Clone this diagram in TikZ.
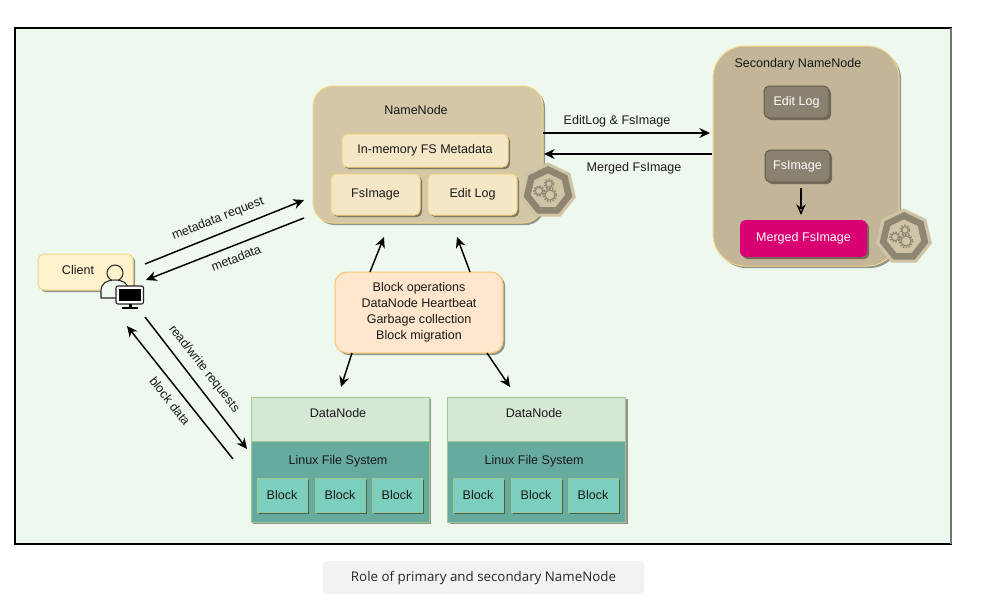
\documentclass[tikz,border=0pt]{standalone}
\usepackage{fontspec}
\setmainfont{Liberation Sans}
\newfontfamily\capfont{Open Sans}
\usetikzlibrary{arrows.meta,shadows,shapes.geometric,calc}
\tikzset{
  x=0.75pt,y=-0.75pt,
  sz/.style 2 args={minimum width=0.75pt*#1,minimum height=0.75pt*#2,inner sep=0pt,outer sep=0pt},
  shad/.style={drop shadow={shadow xshift=1.6pt,shadow yshift=-1.6pt,opacity=.4,fill=black}},
  txt/.style={font=\fontsize{9.4pt}{12pt}\selectfont,text=black!90,align=center},
  clientbox/.style={draw=#1,rounded corners=4.5pt,line width=.75pt,shad,txt},
  innerbox/.style={draw=fdc,fill=cream,rounded corners=4pt,line width=.75pt,shad,txt},
  greybox/.style={draw=greyd,fill=grey,rounded corners=4pt,line width=.75pt,shad,txt,text=white},
  dnhead/.style={draw=gb,fill=dnh,line width=.75pt,shad,txt},
  dnbody/.style={draw=gb,fill=dnb,line width=.75pt,shad},
  blockbox/.style={draw=gb,fill=blk,line width=.75pt,shad,txt},
  flow/.style={draw=black,line width=1.1pt,-{Stealth[length=8pt,width=7.5pt]}},
  lab/.style={txt,inner sep=0pt},
  hepto/.style={regular polygon,regular polygon sides=7,minimum size=#1*0.75pt,inner sep=0pt},
  gearline/.style={draw=geard,line width=.8pt},
  gearteeth/.style={draw=geard,line width=1.3pt,dash pattern=on 1.1pt off 1.1pt},
}
\definecolor{framef}{HTML}{EFF8EF}
\definecolor{fdc}{HTML}{F4D885}
\definecolor{cream}{HTML}{F5E6C6}
\definecolor{nnf}{HTML}{D3C7A8}
\definecolor{snnf}{HTML}{C2B598}
\definecolor{grey}{HTML}{8A8270}
\definecolor{greyd}{HTML}{625C4C}
\definecolor{gb}{HTML}{9CC78E}
\definecolor{dnh}{HTML}{D5E8D4}
\definecolor{dnb}{HTML}{67AB9F}
\definecolor{blk}{HTML}{7CCFBC}
\definecolor{geard}{HTML}{8F8672}
\definecolor{hepl}{HTML}{CFC4A6}
\definecolor{pink}{HTML}{D80073}
\definecolor{orangef}{HTML}{FFE6CC}
\definecolor{clientf}{HTML}{FFF2CC}
\newcommand{\cogs}[2]{%
  \begin{scope}[shift={(#1,#2)}]
    \foreach \cx/\cy/\cr in {2/4/5,-9/0/3.6,1/-7/3.2}{
      \draw[gearline] (\cx,\cy) circle (\cr);
      \draw[gearteeth] (\cx,\cy) circle (\cr+1.4);
    }
  \end{scope}}
\begin{document}
\begin{tikzpicture}
\useasboundingbox (0,0) rectangle (999,611);
\fill[white] (0,0) rectangle (999,611);
% frame
\draw[fill=framef,line width=.9pt,draw=black] (15,28) rectangle (951,544);
\draw[line width=.9pt,draw=black!55] (951,28) -- (951,544);

% client
\node[clientbox=fdc,fill=clientf,sz={95}{36}] (client) at (85.5,272) {};
\node[lab] (clienttxt) at (78,270) {Client};
\draw[draw=black!85,line width=.8pt,fill=clientf] (115,273) circle (8);
\draw[draw=black!85,line width=.8pt,fill=framef] (101,298) -- (101,291) .. controls (101,283) and (107,280) .. (115,280) .. controls (123,280) and (128,283) .. (129,291) -- (129,298) -- cycle;
\draw[draw=black!85,fill=white,line width=.8pt,rounded corners=1.5pt] (116,286) rectangle (143.5,304);
\fill[black] (119,288.5) rectangle (141,301);
\fill[black] (128.5,304) rectangle (131.5,307);
\fill[black] (122,307) rectangle (137.5,308.5);

% namenode
\node[draw=fdc,fill=nnf,rounded corners=15pt,line width=.75pt,shad,sz={230}{137}] (nn) at (428,154.5) {};
\node[lab] (nntxt) at (416,110) {NameNode};
\node[innerbox,sz={166}{33}] (mem) at (425,150.5) {In-memory FS Metadata};
\node[innerbox,sz={89}{41}] (fsi) at (375.5,194.5) {FsImage};
\node[innerbox,sz={89}{41}] (edl) at (472.5,194.5) {Edit Log};
\node[hepto=56,fill=hepl,draw=hepl,line width=.75pt] (hep1) at (548,191) {};
\node[hepto=50,fill=geard] (hep1b) at (548,191) {};
\node[hepto=35,fill=hepl] (hep1c) at (548,191) {};
\cogs{548}{191}

% secondary
\node[draw=fdc,fill=snnf,rounded corners=24pt,line width=.75pt,shad,sz={186}{220}] (snn) at (806,156) {};
\node[lab] (snntxt) at (798,64) {Secondary NameNode};
\node[greybox,sz={65}{32}] (sedl) at (796.5,102) {Edit Log};
\node[greybox,sz={65}{32}] (sfsi) at (797.5,166) {FsImage};
\node[fill=pink,rounded corners=4pt,shad,txt,text=white,sz={127}{37}] (merged) at (803.5,238.5) {Merged FsImage};
\node[hepto=56,fill=hepl,draw=hepl,line width=.75pt] (hep2) at (904,237) {};
\node[hepto=50,fill=geard] (hep2b) at (904,237) {};
\node[hepto=35,fill=hepl] (hep2c) at (904,237) {};
\cogs{904}{237}
\draw[draw=black,line width=1pt,-{Stealth[open,length=8pt,width=7pt]}] ([shift={(3.5,6)}]sfsi.south) -- ([shift={(-2.5,-5)}]merged.north);

% ops
\node[draw=fdc!80!orange,fill=orangef,rounded corners=9pt,line width=.75pt,shad,txt,sz={168}{81}] (ops) at (419,312.5) {Block operations\\DataNode Heartbeat\\Garbage collection\\Block migration};

% datanode 1
\node[dnhead,sz={178}{44},text depth=0pt,anchor=north] (dn1) at (340,397) {};
\node[lab] (dn1txt) at (338,413) {DataNode};
\node[dnbody,sz={178}{81},anchor=north] (dl1) at (340,441) {};
\node[lab] (dl1txt) at (338,461) {Linux File System};
\node[blockbox,sz={50}{34}] (b11) at (282,495) {Block};
\node[blockbox,sz={50}{34}] (b12) at (340,495) {Block};
\node[blockbox,sz={50}{34}] (b13) at (397,495) {Block};

% datanode 2
\node[dnhead,sz={178}{44},anchor=north] (dn2) at (536.5,397) {};
\node[lab] (dn2txt) at (534,413) {DataNode};
\node[dnbody,sz={178}{81},anchor=north] (dl2) at (536.5,441) {};
\node[lab] (dl2txt) at (534,461) {Linux File System};
\node[blockbox,sz={50}{34}] (b21) at (478,495) {Block};
\node[blockbox,sz={50}{34}] (b22) at (536,495) {Block};
\node[blockbox,sz={50}{34}] (b23) at (593,495) {Block};

% connectors
\draw[flow] ([shift={(12,-8)}]client.east) -- ([shift={(-9,45.5)}]nn.west);
\draw[flow] ([shift={(-9,63.5)}]nn.west) -- ([shift={(13,8)}]client.east);
\draw[flow] ([shift={(12,45)}]client.east) -- ([shift={(-4,-32.5)}]dl1.west);
\draw[flow] ([shift={(-18,-22.5)}]dl1.west) -- ([shift={(-6,54)}]client.east);
\draw[flow] ([shift={(0,-21.5)}]nn.east) -- ([shift={(-3,-23)}]snn.west);
\draw[flow] ([shift={(-1,-2)}]snn.west) -- ([shift={(1,-0.5)}]nn.east);
\draw[flow] ([shift={(-49,0)}]ops.north) -- ([shift={(-44,14)}]nn.south);
\draw[flow] ([shift={(51,0)}]ops.north) -- ([shift={(29,14)}]nn.south);
\draw[flow] ([shift={(-67,0)}]ops.south) -- ([shift={(1,-10)}]dn1.north);
\draw[flow] ([shift={(68,0)}]ops.south) -- ([shift={(-26.5,-10)}]dn2.north);

% labels
\node[lab,rotate=21.5] (l1) at (218,219) {metadata request};
\node[lab,rotate=21.5] (l2) at (236,258) {metadata};
\node[lab,rotate=-52] (l3) at (204,369) {read/write requests};
\node[lab,rotate=-52] (l4) at (170,401) {block data};
\node[lab] (l5) at (617,121) {EditLog \& FsImage};
\node[lab] (l6) at (634,168) {Merged FsImage};

% caption
\node[fill=black!5,rounded corners=3pt,sz={321}{33},font=\capfont\fontsize{10pt}{12pt}\selectfont,text=black!85] (cap) at (483.5,577.5) {Role of primary and secondary NameNode};
\end{tikzpicture}
\end{document}
